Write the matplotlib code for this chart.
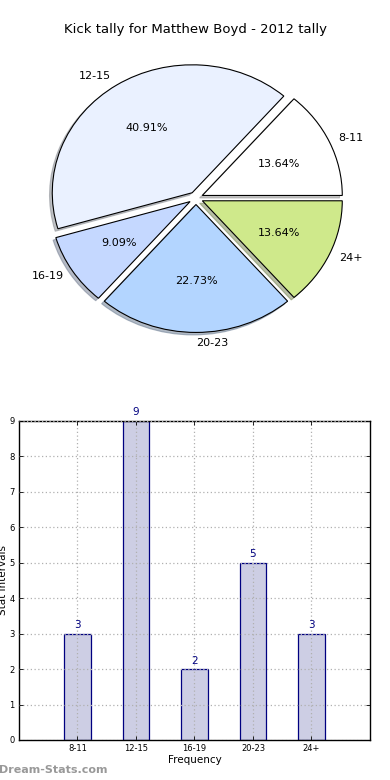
import matplotlib
matplotlib.use("Agg")
import matplotlib.pyplot as plt

categories = ["8-11", "12-15", "16-19", "20-23", "24+"]
counts = [3, 9, 2, 5, 3]
pie_colors = ["#ffffff", "#eaf1ff", "#c5d8ff", "#b3d5ff", "#cfe98b"]
title = "Kick tally for Matthew Boyd - 2012 tally"

fig = plt.figure(figsize=(3.9, 7.8), dpi=100)

# Pie chart
ax1 = fig.add_axes([0.054, 0.541, 0.897, 0.410])
wedges, texts, autotexts = ax1.pie(
    counts, labels=categories, colors=pie_colors, explode=[0.05] * len(counts),
    autopct="%.2f%%", shadow=dict(ox=-0.014, oy=-0.014, shade=0.45),
    startangle=0,
    wedgeprops=dict(edgecolor="black", linewidth=0.8),
    textprops=dict(fontsize=8),
)
ax1.set_aspect("auto")
ax1.set_xlim(-1.25, 1.25)
ax1.set_ylim(-1.25, 1.25)
for t in texts:
    xx, yy = t.get_position()
    t.set_position((xx * 0.975, yy * 0.985))
fig.text(0.5, 1 - 30 / 780, title, ha="center", va="center", fontsize=9.5)

# Bar chart
ax2 = fig.add_axes([0.0487, 0.0513, 0.9, 0.409])
x = list(range(len(categories)))
bars = ax2.bar(x, counts, width=0.45, color="#cdcee4", edgecolor="#000080",
               linewidth=0.9, zorder=2)
for xi, v in zip(x, counts):
    ax2.text(xi, v + 0.1, str(v), ha="center", va="bottom", color="#000080", fontsize=7.5)
ax2.set_xlim(-1, 5)
ax2.set_ylim(0, 9)
ax2.set_xticks(x)
ax2.set_xticklabels(categories)
ax2.set_yticks(range(0, 10))
ax2.tick_params(axis="both", labelsize=6, direction="in", top=True, right=True,
                length=3, width=0.6, pad=3)
ax2.grid(True, linestyle=(0, (1, 2)), color="#b0b0b0", linewidth=0.9, zorder=3)
ax2.set_axisbelow(False)
for s in ax2.spines.values():
    s.set_linewidth(1.0)
ax2.set_xlabel("Frequency", fontsize=7.5, labelpad=1)
ax2.set_ylabel("Stat Intervals", fontsize=7.5, labelpad=0)
ax2.yaxis.set_label_coords(-0.03, 0.5)

fig.text(-0.003, 1 - 770 / 780, "Dream-Stats.com", ha="left", va="center",
         fontsize=8, color="#999999", fontweight="bold")

fig.savefig("out.png", dpi=100)
